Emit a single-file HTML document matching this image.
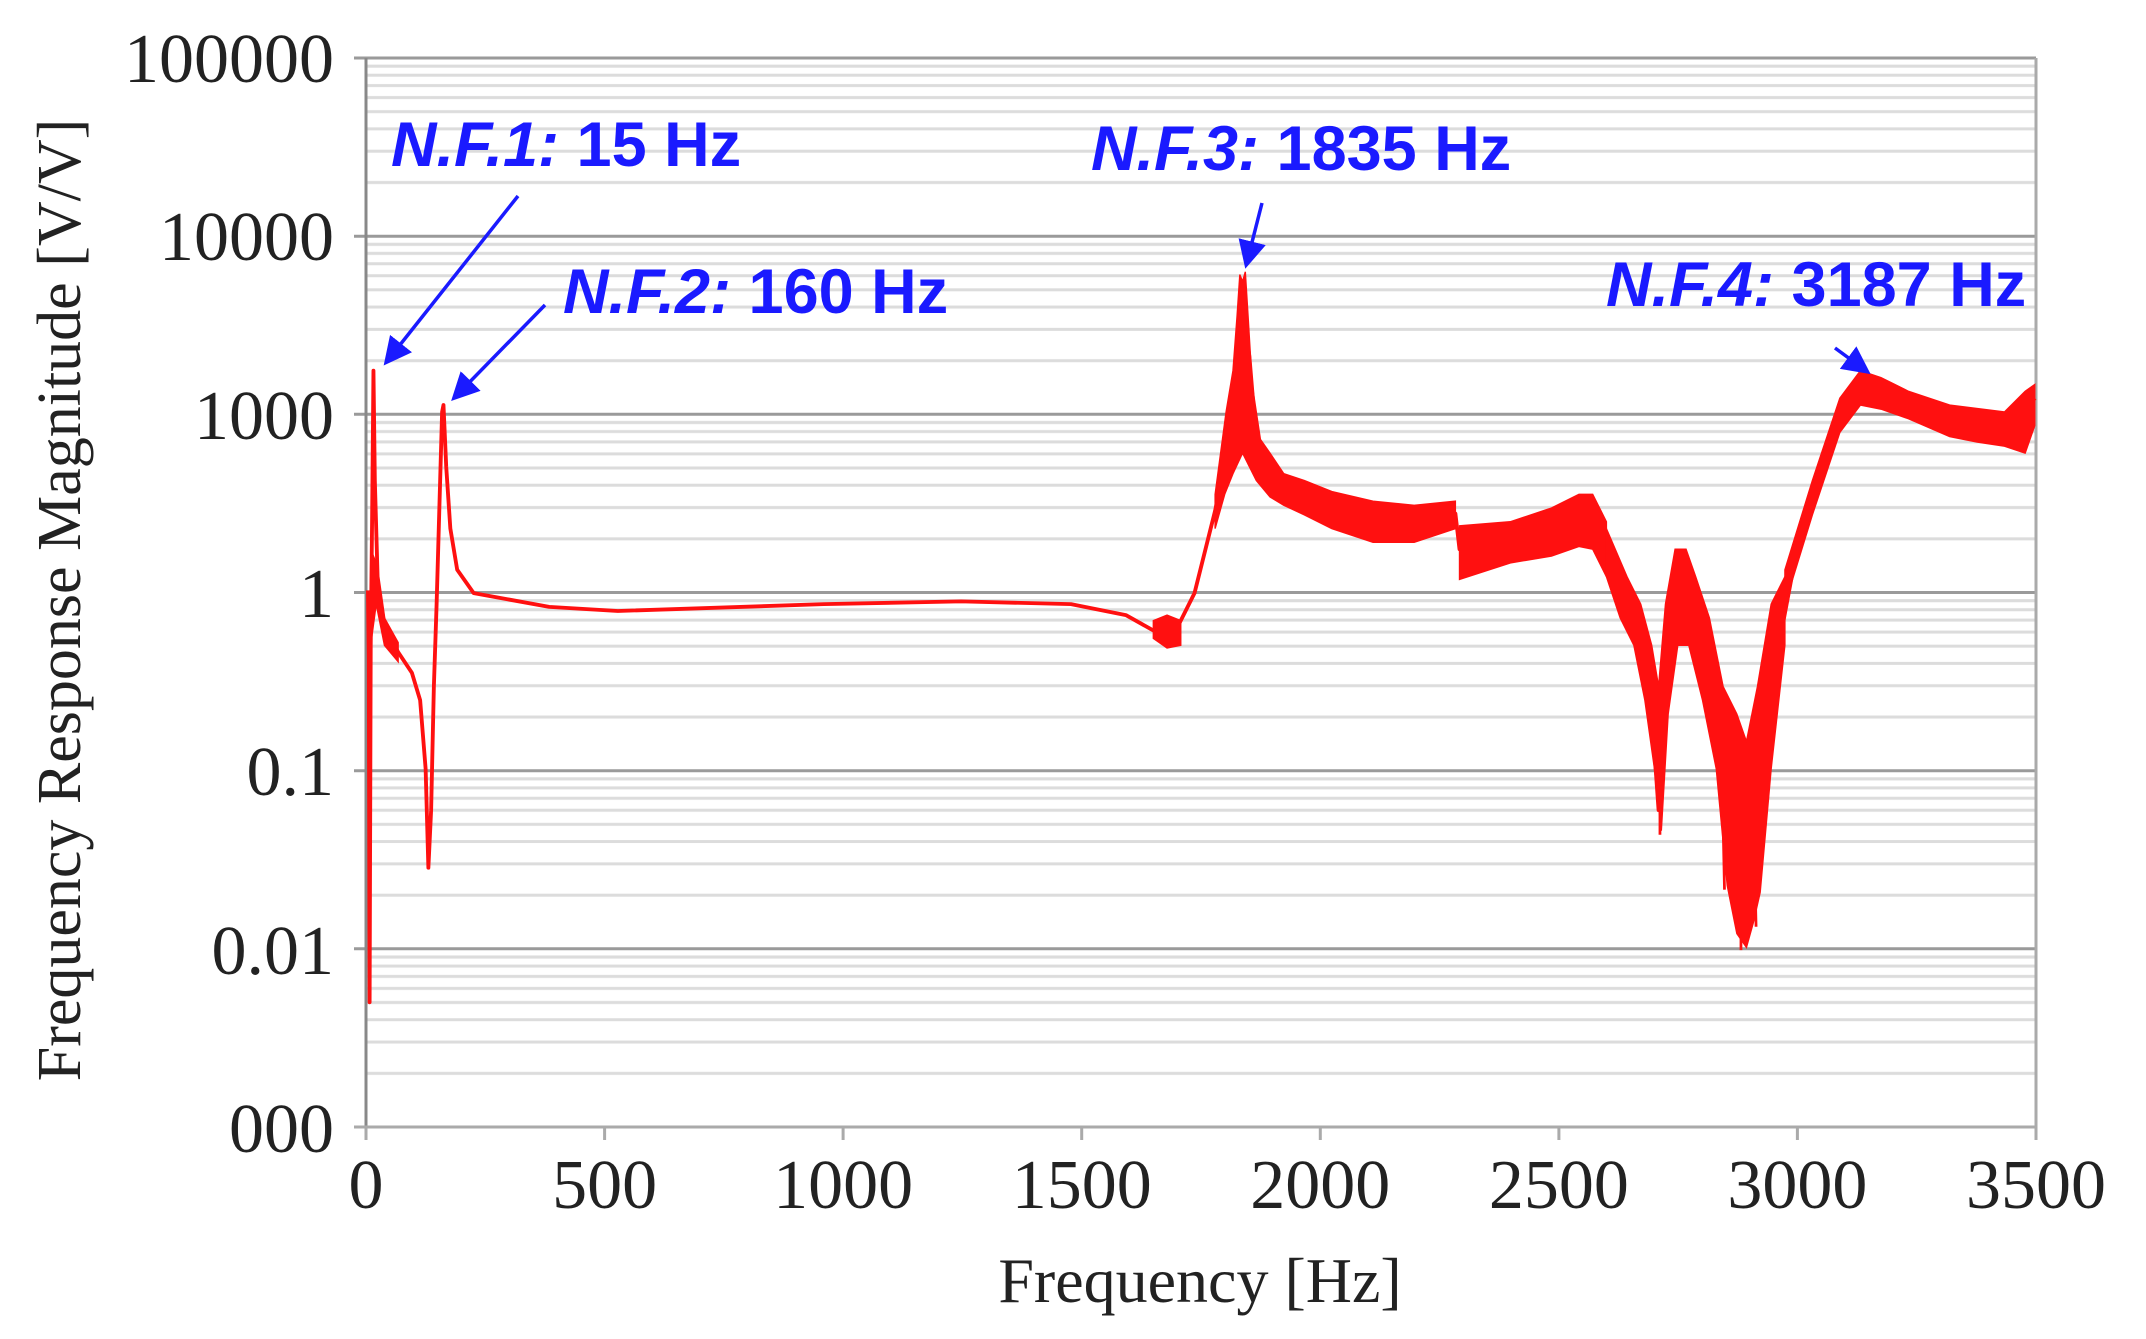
<!DOCTYPE html>
<html><head><meta charset="utf-8"><style>
html,body{margin:0;padding:0;background:#fff;}
svg{display:block;}
</style></head><body>
<svg width="2146" height="1339" viewBox="0 0 2146 1339" xmlns="http://www.w3.org/2000/svg">
<defs>
<pattern id="gp" patternUnits="userSpaceOnUse" x="0" y="58" width="2146" height="178.17">
<g stroke="#dcdcdc" stroke-width="3">
<line x1="0" y1="8.17" x2="2146" y2="8.17"/>
<line x1="0" y1="17.27" x2="2146" y2="17.27"/>
<line x1="0" y1="27.57" x2="2146" y2="27.57"/>
<line x1="0" y1="39.57" x2="2146" y2="39.57"/>
<line x1="0" y1="53.67" x2="2146" y2="53.67"/>
<line x1="0" y1="70.87" x2="2146" y2="70.87"/>
<line x1="0" y1="93.17" x2="2146" y2="93.17"/>
<line x1="0" y1="124.57" x2="2146" y2="124.57"/>
</g>
</pattern>
<marker id="ah" markerWidth="8" markerHeight="8" refX="6" refY="4" orient="auto" markerUnits="strokeWidth"><path d="M0,0 L8,4 L0,8 z" fill="#1a1aff"/></marker>
</defs>
<rect width="2146" height="1339" fill="#fff"/>
<rect x="366" y="58" width="1670" height="1069" fill="url(#gp)"/>
<g stroke="#9a9a9a" stroke-width="3">
<line x1="354" y1="58" x2="2036" y2="58"/>
<line x1="354" y1="236.2" x2="2036" y2="236.2"/>
<line x1="354" y1="414.3" x2="2036" y2="414.3"/>
<line x1="354" y1="592.5" x2="2036" y2="592.5"/>
<line x1="354" y1="770.7" x2="2036" y2="770.7"/>
<line x1="354" y1="948.8" x2="2036" y2="948.8"/>
</g>
<line x1="366" y1="58" x2="366" y2="1127" stroke="#888" stroke-width="3"/>
<line x1="2036" y1="58" x2="2036" y2="1127" stroke="#aaa" stroke-width="3"/>
<line x1="354" y1="1127" x2="2036" y2="1127" stroke="#aaa" stroke-width="3"/>
<g stroke="#aaa" stroke-width="3">
<line x1="366" y1="1127" x2="366" y2="1140"/>
<line x1="604.6" y1="1127" x2="604.6" y2="1140"/>
<line x1="843.1" y1="1127" x2="843.1" y2="1140"/>
<line x1="1081.7" y1="1127" x2="1081.7" y2="1140"/>
<line x1="1320.3" y1="1127" x2="1320.3" y2="1140"/>
<line x1="1558.9" y1="1127" x2="1558.9" y2="1140"/>
<line x1="1797.4" y1="1127" x2="1797.4" y2="1140"/>
<line x1="2036" y1="1127" x2="2036" y2="1140"/>
</g>
<g font-family="Liberation Serif, serif" font-size="70" fill="#222" text-anchor="end">
<text x="334" y="82">100000</text>
<text x="334" y="260">10000</text>
<text x="334" y="439">1000</text>
<text x="334" y="617">1</text>
<text x="334" y="795">0.1</text>
<text x="334" y="974">0.01</text>
<text x="334" y="1152">000</text>
</g>
<g font-family="Liberation Serif, serif" font-size="70" fill="#222" text-anchor="middle">
<text x="366" y="1208">0</text>
<text x="604.6" y="1208">500</text>
<text x="843.1" y="1208">1000</text>
<text x="1081.7" y="1208">1500</text>
<text x="1320.3" y="1208">2000</text>
<text x="1558.9" y="1208">2500</text>
<text x="1797.4" y="1208">3000</text>
<text x="2036" y="1208">3500</text>
</g>
<text x="1200" y="1302" font-family="Liberation Serif, serif" font-size="64" fill="#222" text-anchor="middle">Frequency [Hz]</text>
<text transform="translate(80,600) rotate(-90)" font-family="Liberation Serif, serif" font-size="62" fill="#222" text-anchor="middle">Frequency Response Magnitude [V/V]</text>
<g transform="scale(1.373)">
<path fill="none" stroke="#ff1010" stroke-width="2.8" stroke-linejoin="round" d="M268,430 L268.6,480 L269.2,730 L270,470 L271,380 L272,270 L273,350 L275,420 L280,455 L290,475 L300,490 L306,510 L310,560 L312,632 L314,590 L316,500 L318,440 L320,370 L322,300 L323,295 L325,340 L328,385 L333,415 L345,432 L400,442 L450,445 L600,440 L700,438 L780,440 L820,448 L845,462 L855,462 L870,432 L885,372 L895,322 L903,260 L906,230 L910,260 L915,320 L930,350 L960,365 L1000,380 L1050,385 L1060,374 L1063,400 L1100,395 L1150,380 L1160,376 L1180,430 L1195,470 L1203,520 L1208,590 L1212,500 L1218,445 L1226,432 L1240,470 L1252,540 L1262,620 L1270,680 L1278,620 L1290,500 L1305,420 L1320,360 L1340,300 L1355,280 L1380,290 L1420,305 L1460,312 L1475,300 L1482,290"/>
<path fill="#ff1010" stroke="#ff1010" stroke-width="1" d="M270,400 L274,410 L280,450 L290,468 L290,482 L280,470 L274,440 L270,470 Z"/>
<path fill="#ff1010" stroke="#ff1010" stroke-width="1" d="M840,452 L850,448 L860,452 L860,470 L850,472 L840,465 Z"/>
<path fill="#ff1010" stroke="#ff1010" stroke-width="1" d="M885,360 L893,300 L898,270 L901,230 L903,200 L905,205 L907,198 L909,230 L912,280 L918,320 L925,330 L935,345 L950,350 L970,358 L1000,365 L1030,368 L1060,365 L1060,385 L1030,395 L1000,395 L970,385 L950,375 L935,368 L925,362 L915,350 L910,340 L905,330 L898,345 L892,360 L885,385 Z"/>
<path fill="#ff1010" stroke="#ff1010" stroke-width="1" d="M1063,383 L1100,380 L1130,370 L1150,360 L1160,360 L1170,380 L1170,420 L1160,400 L1150,398 L1130,405 L1100,410 L1063,422 Z"/>
<path fill="#ff1010" stroke="#ff1010" stroke-width="1" d="M1170,385 L1185,420 L1195,440 L1203,470 L1208,500 L1213,440 L1220,400 L1228,400 L1235,420 L1245,450 L1255,500 L1265,520 L1272,540 L1280,500 L1290,440 L1300,420 L1300,470 L1290,560 L1282,650 L1277,672 L1272,690 L1265,680 L1258,645 L1250,560 L1240,510 L1230,470 L1222,470 L1215,520 L1210,605 L1205,560 L1198,510 L1190,470 L1180,450 L1170,420 Z"/>
<path fill="#ff1010" stroke="#ff1010" stroke-width="1" d="M1300,415 L1320,350 L1340,290 L1355,270 L1370,275 L1390,285 L1420,295 L1460,300 L1475,285 L1482,280 L1482,310 L1475,330 L1460,325 L1440,322 L1420,318 L1390,305 L1370,298 L1355,295 L1340,315 L1320,375 L1300,440 Z"/>
<path fill="none" stroke="#ff1010" stroke-width="2" d="M1255,600 L1256,648 M1268,620 L1268,692 M1278,630 L1279,675 M1209,560 L1209,608"/>
</g>
<g font-family="Liberation Sans, sans-serif" font-weight="bold" font-size="63" fill="#1a1aff">
<text x="391" y="166"><tspan font-style="italic">N.F.1:</tspan> 15 Hz</text>
<text x="563" y="313"><tspan font-style="italic">N.F.2:</tspan> 160 Hz</text>
<text x="1091" y="170"><tspan font-style="italic">N.F.3:</tspan> 1835 Hz</text>
<text x="1606" y="306"><tspan font-style="italic">N.F.4:</tspan> 3187 Hz</text>
</g>
<g stroke="#1a1aff" stroke-width="3.5" marker-end="url(#ah)">
<line x1="518" y1="196" x2="388" y2="360"/>
<line x1="545" y1="305" x2="456" y2="396"/>
<line x1="1262" y1="203" x2="1247" y2="262"/>
<line x1="1835" y1="348" x2="1865" y2="370"/>
</g>
</svg>
</body></html>
